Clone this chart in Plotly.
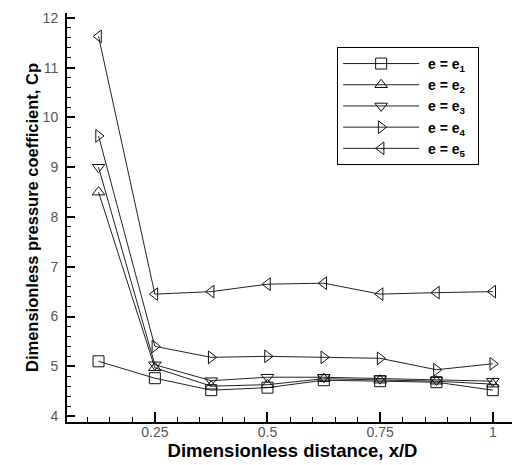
import plotly.graph_objects as go

x_over_d = [0.125, 0.25, 0.375, 0.5, 0.625, 0.75, 0.875, 1.0]
cp_e1 = [5.10, 4.76, 4.52, 4.57, 4.72, 4.70, 4.68, 4.52]
cp_e2 = [8.50, 4.97, 4.60, 4.63, 4.75, 4.72, 4.70, 4.64]
cp_e3 = [9.00, 5.03, 4.71, 4.78, 4.78, 4.75, 4.72, 4.70]
cp_e4 = [9.63, 5.40, 5.18, 5.20, 5.18, 5.16, 4.93, 5.05]
cp_e5 = [11.63, 6.45, 6.50, 6.65, 6.67, 6.45, 6.48, 6.50]

series_names = ["&nbsp;e = e<sub>1</sub>&nbsp;&nbsp;", "&nbsp;e = e<sub>2</sub>&nbsp;&nbsp;",
                "&nbsp;e = e<sub>3</sub>&nbsp;&nbsp;", "&nbsp;e = e<sub>4</sub>&nbsp;&nbsp;",
                "&nbsp;e = e<sub>5</sub>&nbsp;&nbsp;"]
series_values = [cp_e1, cp_e2, cp_e3, cp_e4, cp_e5]
symbols = ["square-open", "triangle-up-open", "triangle-down-open",
           "triangle-right-open", "triangle-left-open"]

x_tickvals = [0.25, 0.5, 0.75, 1.0]
x_ticktext = ["0.25", "0.5", "0.75", "1"]
y_tickvals = [4, 5, 6, 7, 8, 9, 10, 11, 12]
y_ticktext = ["4", "5", "6", "7", "8", "9", "10", "11", "12"]

fig = go.Figure()
for name, vals, sym in zip(series_names, series_values, symbols):
    fig.add_trace(go.Scatter(
        x=x_over_d, y=vals, name=name, mode="lines+markers",
        line=dict(color="#222222", width=1),
        marker=dict(symbol=sym, size=11, color="#111111", line=dict(width=1, color="#111111")),
    ))

family = "Liberation Sans, Arial, sans-serif"
axis_font = dict(family=family, size=14, color="#555555")

fig.update_layout(
    width=512, height=457,
    margin=dict(l=59, r=2, t=2, b=43),
    paper_bgcolor="white", plot_bgcolor="white",
    showlegend=True,
    legend=dict(
        x=0.599, y=0.917, xanchor="left", yanchor="top",
        bordercolor="#000000", borderwidth=1, bgcolor="white",
        font=dict(family=family, size=14, color="#000000", weight="bold"),
        itemwidth=76, tracegroupgap=0,
    ),
    xaxis=dict(
        range=[0.055, 1.056], tickvals=x_tickvals, ticktext=x_ticktext,
        ticks="inside", ticklen=10, tickwidth=2, tickcolor="black",
        showline=True, linecolor="black", linewidth=2, showgrid=False, zeroline=False,
        tickfont=axis_font, ticklabelstandoff=-4, ticklabeloverflow="allow",
        minor=dict(dtick=0.05, tick0=0, ticks="inside", ticklen=5, tickwidth=1, tickcolor="black", showgrid=False),
        title=dict(text="Dimensionless distance, x/D",
                   font=dict(family=family, size=18.5, color="#000000", weight="bold"), standoff=0),
    ),
    yaxis=dict(
        range=[3.88, 12.1], tickvals=y_tickvals, ticktext=y_ticktext,
        ticks="inside", ticklen=8, tickwidth=2, tickcolor="black",
        showline=True, linecolor="black", linewidth=2, showgrid=False, zeroline=False,
        tickfont=axis_font, ticklabelstandoff=4, ticklabeloverflow="allow",
        minor=dict(dtick=0.2, tick0=0, ticks="inside", ticklen=4, tickwidth=1, tickcolor="black", showgrid=False),
        title=dict(text="Dimensionless pressure coefficient, Cp",
                   font=dict(family=family, size=16.5, color="#000000", weight="bold"), standoff=0),
    ),
)

fig.write_html("out.html")
